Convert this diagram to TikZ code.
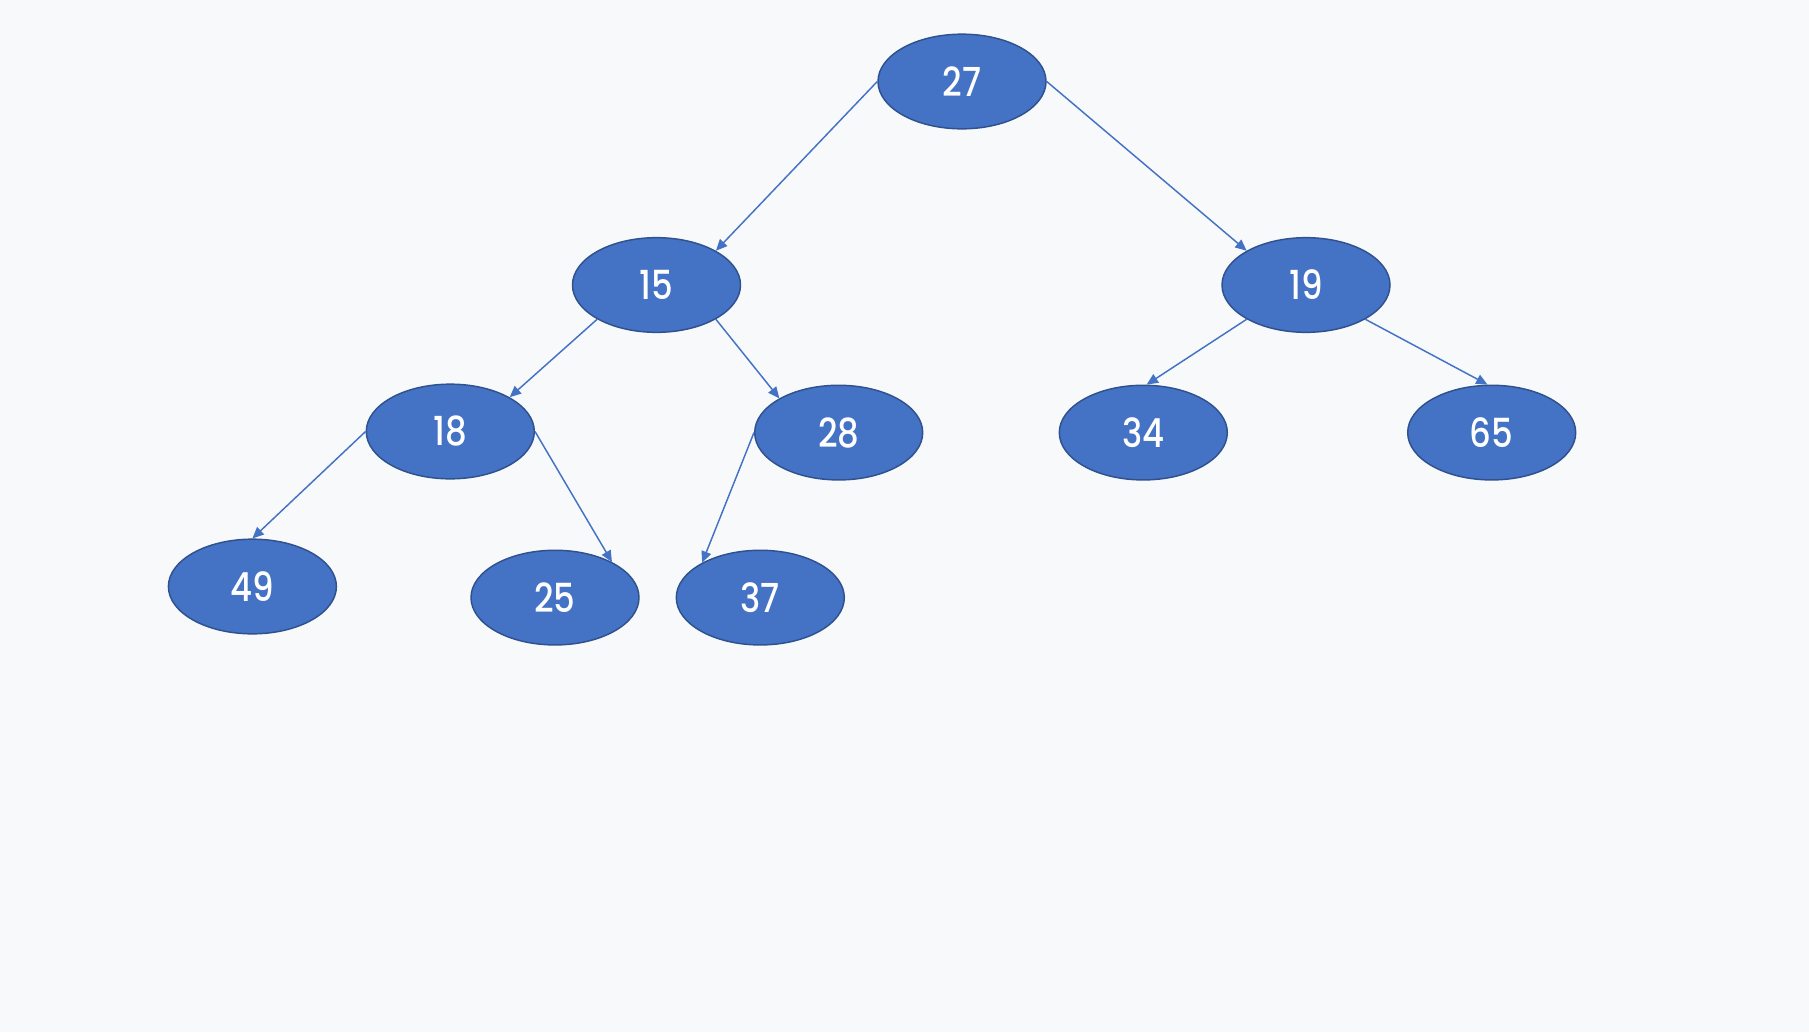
\documentclass[tikz,border=0pt]{standalone}
\usepackage{fontspec}
\usetikzlibrary{shapes.geometric,arrows.meta}
\newfontfamily\keyfont{Poppins Medium}[FakeStretch=0.85]

\definecolor{pagebg}{RGB}{248,249,250}
\definecolor{nodefill}{RGB}{68,114,196}
\definecolor{nodeline}{RGB}{47,82,143}

\tikzset{every picture/.style={line width=0.75pt}}
\tikzset{
	keynode/.style={ellipse, fill=nodefill, draw=nodeline, line width=1.1pt, minimum width=126pt, minimum height=71pt, inner sep=0pt, text=white, font=\keyfont\fontsize{30}{30}\selectfont},
	childlink/.style={draw=nodefill, line width=1.1pt, -{Triangle[length=8.5pt,width=7.5pt]}}
}

\begin{document}
\begin{tikzpicture}[x=0.75pt,y=0.75pt,yscale=-1,xscale=1]
	% background, 1809 x 1032
	\fill[pagebg] (0,0) rectangle (1809,1032);

	% Nodes
	\node[keynode] (k27) at (962,81.5) {27};
	\node[keynode] (k15) at (656.5,285) {15};
	\node[keynode] (k19) at (1306,285) {19};
	\node[keynode] (k18) at (450.3,431.5) {18};
	\node[keynode] (k28) at (838.7,432.6) {28};
	\node[keynode] (k34) at (1143.3,432.6) {34};
	\node[keynode] (k65) at (1491.7,432.6) {65};
	\node[keynode] (k49) at (252.4,586.5) {49};
	\node[keynode] (k25) at (555,597.6) {25};
	\node[keynode] (k37) at (760.3,597.6) {37};

	% Links
	\draw[childlink] (k27.west) -- (k15.30);
	\draw[childlink] (k27.east) -- (k19.150);
	\draw[childlink] (k15.-150) -- (k18.30);
	\draw[childlink] (k15.-30) -- (k28.150);
	\draw[childlink] (k19.-150) -- (k34.86);
	\draw[childlink] (k19.-30) -- (k65.95);
	\draw[childlink] (k18.west) -- (k49.north);
	\draw[childlink] (k18.east) -- (k25.32);
	\draw[childlink] (k28.west) -- (k37.149);

\end{tikzpicture}
\end{document}
